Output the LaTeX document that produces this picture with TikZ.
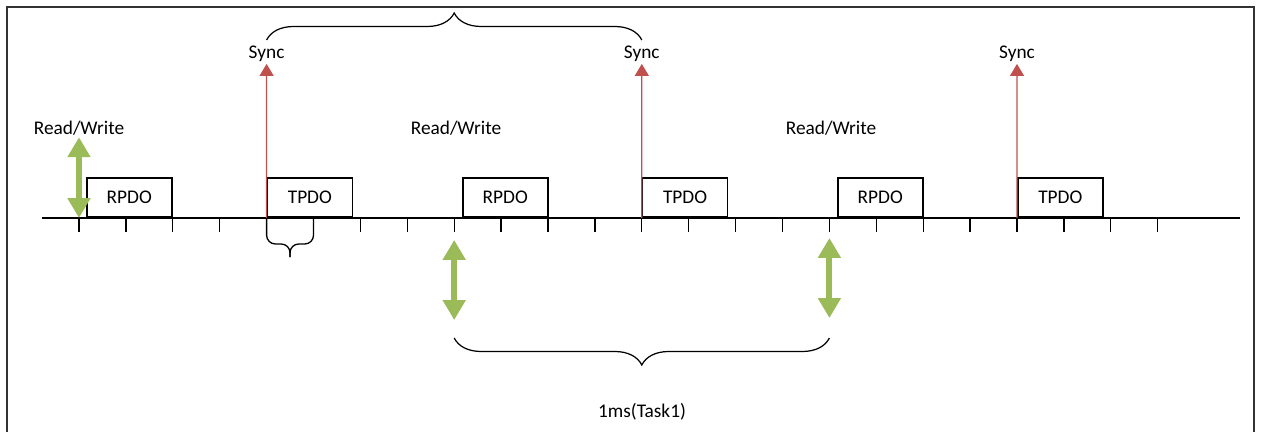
\documentclass[tikz,border=0pt]{standalone}
\usepackage{fontspec}
\setmainfont{Carlito}
\usepackage{xcolor}
\definecolor{syncred}{RGB}{192,80,77}
\definecolor{rwgreen}{RGB}{155,187,89}
\definecolor{framegray}{RGB}{51,51,51}
\usetikzlibrary{arrows.meta,positioning,decorations.pathreplacing}

\begin{document}
\begin{tikzpicture}[x=0.02cm,y=-0.02cm,
  pdo/.style={draw,line width=0.9pt,minimum width=1.7cm,minimum height=0.78cm,inner sep=0pt,anchor=south west,font=\fontsize{11}{13}\selectfont},
  lbl/.style={font=\fontsize{11}{13}\selectfont,inner sep=1pt},
  syncarrow/.style={-{Triangle[width=0.28cm,length=0.24cm]},syncred,line width=0.7pt},
  rwarrow/.style={{Triangle[width=0.44cm,length=0.4cm]}-{Triangle[width=0.44cm,length=0.4cm]},rwgreen,line width=0.12cm},
  tickline/.style={line width=0.75pt},
  bracket/.style={decorate,decoration={brace,amplitude=0.54cm},line width=0.7pt}]
  \useasboundingbox (0,0) rectangle (1264,432);
  % Frame (open at the bottom)
  \draw[framegray,line width=1.4pt] (7,432) -- (7,7) -- (1254,7) -- (1254,432);
  % Time axis and ticks
  \coordinate (axl) at (42,218);
  \coordinate (axr) at (1240,218);
  \draw[line width=0.9pt] (axl) -- (axr);
  \foreach \i in {0,...,23} \coordinate (t\i) at ({79+46.9*\i},218);
  \foreach \i in {0,...,23} \draw[tickline] (t\i) -- ++(0,14);
  % PDO boxes
  \node[pdo] (rpdo1) at (86,218) {RPDO};
  \node[pdo] (tpdo1) at (266.6,218) {TPDO};
  \node[pdo] (rpdo2) at (462,218) {RPDO};
  \node[pdo] (tpdo2) at (641.8,218) {TPDO};
  \node[pdo] (rpdo3) at (837,218) {RPDO};
  \node[pdo] (tpdo3) at (1017,218) {TPDO};
  % Sync pulses
  \node[lbl] (sync1) at (266.6,54) {Sync};
  \node[lbl] (sync2) at (641.8,54) {Sync};
  \node[lbl] (sync3) at (1017,54) {Sync};
  \draw[syncarrow] (t4) -- (sync1.south);
  \draw[syncarrow] (t12) -- (sync2.south);
  \draw[syncarrow] (t20) -- (sync3.south);
  % Read/Write points
  \node[lbl] (rw1) at (79,128) {Read/Write};
  \node[lbl] (rw2) at (456,128) {Read/Write};
  \node[lbl] (rw3) at (831,128) {Read/Write};
  \draw[rwarrow] (rw1.south) -- (t0);
  \coordinate (rw2a) at (454.2,240);
  \coordinate (rw2b) at (454.2,320);
  \coordinate (rw3a) at (829.4,238);
  \coordinate (rw3b) at (829.4,318);
  \draw[rwarrow] (rw2a) -- (rw2b);
  \draw[rwarrow] (rw3a) -- (rw3b);
  % Braces
  \coordinate (cyc1) at (266.6,40);
  \coordinate (cyc2) at (641.8,40);
  \draw[bracket] (cyc1) -- (cyc2);
  \coordinate (bt) at (290,257);
  \draw[tickline,rounded corners=5pt] (t4) -- ++(0,26) -| (bt);
  \draw[tickline,rounded corners=5pt] (t5) -- ++(0,26) -| (bt);
  \coordinate (task1) at (454.2,338);
  \coordinate (task2) at (829.4,338);
  \draw[bracket] (task2) -- (task1);
  \node[lbl] (task) at (642,412) {1ms(Task1)};
\end{tikzpicture}
\end{document}
